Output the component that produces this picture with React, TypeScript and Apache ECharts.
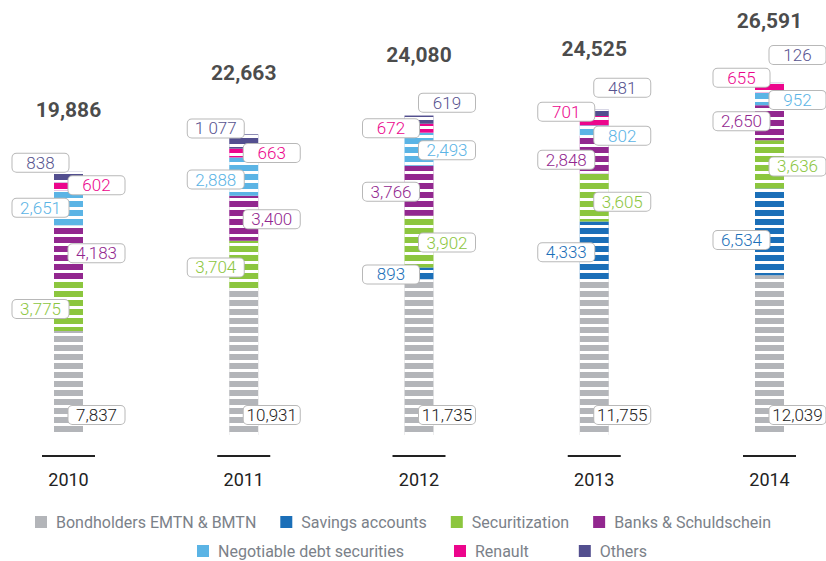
import React, { useEffect, useRef } from "react";
import * as echarts from "echarts";

const categories = ["2010", "2011", "2012", "2013", "2014"];
const bondholders = [7837, 10931, 11735, 11755, 12039];
const savings = [0, 0, 893, 4333, 6534];
const securitization = [3775, 3704, 3902, 3605, 3636];
const banks = [4183, 3400, 3766, 2848, 2650];
const negotiable = [2651, 2888, 2493, 802, 952];
const renault = [602, 663, 672, 701, 655];
const others = [838, 1077, 619, 481, 126];
const totals = [19886, 22663, 24080, 24525, 26591];

const specialLabels: Record<string, string> = { "Others|1": "1 077" };

const FONT = "Roboto, 'Noto Sans', sans-serif";

type Side = "L" | "R";
interface SeriesDef {
  name: string;
  values: number[];
  color: string;
  textColor: string;
  side: Side[];
  dy: number[];
  bottom?: boolean;
}

const seriesDefs: SeriesDef[] = [
  { name: "Bondholders EMTN & BMTN", values: bondholders, color: "#b3b5b9", textColor: "#222222", side: ["R", "R", "R", "R", "R"], dy: [-20, -20, -20, -20, -20], bottom: true },
  { name: "Savings accounts", values: savings, color: "#1b6fb8", textColor: "#1b6fb8", side: ["L", "L", "L", "L", "L"], dy: [0, 0, 1, 2, 8] },
  { name: "Securitization", values: securitization, color: "#8cc63e", textColor: "#8cc63e", side: ["L", "L", "R", "R", "R"], dy: [3, 2, 1, 4, 2] },
  { name: "Banks & Schuldschein", values: banks, color: "#92278f", textColor: "#92278f", side: ["R", "R", "L", "L", "L"], dy: [0, 1, 1, 5, -1.5] },
  { name: "Negotiable debt securities", values: negotiable, color: "#5bb4e5", textColor: "#5bb4e5", side: ["L", "L", "R", "R", "R"], dy: [0, 3, 1, 5, 1] },
  { name: "Renault", values: renault, color: "#ec058c", textColor: "#ec058c", side: ["R", "R", "L", "L", "L"], dy: [-1, 0, 0, -9, -10.5] },
  { name: "Others", values: others, color: "#534f8f", textColor: "#57538f", side: ["L", "L", "R", "R", "R"], dy: [-14, -13, -17, -25, -28] },
];

const fmt = (v: number) => v.toLocaleString("en-US");

export default function App() {
  const ref = useRef<HTMLDivElement>(null);
  useEffect(() => {
    if (!ref.current) return;
    const chart = echarts.init(ref.current, undefined, { renderer: "svg" });

    const barSeries = seriesDefs.map((d) => ({
      name: d.name,
      type: "bar",
      stack: "total",
      barWidth: 29,
      itemStyle: {
        color: d.color,
        decal: {
          symbol: "rect",
          symbolSize: 1,
          dashArrayX: [1, 0],
          dashArrayY: [3, 6],
          rotation: 0,
          color: "#ffffff",
        },
      },
      data: d.values.map((v, i) => ({
        value: v,
        label: {
          show: v > 0,
          position: d.bottom ? ["50%", "100%"] : ["50%", "50%"],
          offset: [d.side[i] === "L" ? -28 : 28, d.dy[i]],
        },
      })),
      label: {
        show: true,
        formatter: (p: any) => specialLabels[`${d.name}|${p.dataIndex}`] ?? fmt(p.value),
        color: d.textColor,
        fontFamily: FONT,
        fontSize: 17,
        fontWeight: 300,
        backgroundColor: "#ffffff",
        borderColor: "#b8b8b8",
        borderWidth: 1,
        borderRadius: 4,
        padding: [0, 4],
        width: 48,
        height: 18,
        lineHeight: 18,
        align: "center",
        verticalAlign: "middle",
      },
      emphasis: { disabled: true },
    }));

    const legendBase = {
      padding: 0,
      icon: "rect",
      itemWidth: 12,
      itemHeight: 12,
      selectedMode: false,
      textStyle: { fontFamily: FONT, fontSize: 16, color: "#7b8189", padding: [0, 0, 0, 4] },
    };

    const option: any = {
      animation: false,
      backgroundColor: "#ffffff",
      grid: { left: 68.5, right: 56.5, top: 37, bottom: 126, containLabel: false },
      xAxis: {
        type: "category",
        data: categories,
        boundaryGap: false,
        axisLine: { show: false },
        axisTick: { show: false },
        splitLine: { show: false },
        axisLabel: {
          margin: 44,
          verticalAlign: "middle",
          fontFamily: FONT,
          fontSize: 18,
          color: "#222222",
        },
      },
      yAxis: {
        type: "value",
        min: 0,
        max: 30000,
        show: false,
        splitLine: { show: false },
      },
      legend: [
        {
          ...legendBase,
          itemGap: 24,
          data: seriesDefs.slice(0, 4).map((d) => ({ name: d.name, itemStyle: { decal: "none" } })),
          left: 35,
          top: 514,
        },
        {
          ...legendBase,
          itemGap: 50,
          data: seriesDefs.slice(4).map((d) => ({ name: d.name, itemStyle: { decal: "none" } })),
          left: 197,
          top: 543,
        },
      ],
      series: [
        ...barSeries,
        {
          name: "totals",
          type: "scatter",
          data: totals.map((t, i) => [i, t]),
          symbolSize: 1,
          itemStyle: { color: "rgba(0,0,0,0)" },
          label: {
            show: true,
            position: "inside",
            offset: [0, -61],
            formatter: (p: any) => fmt(p.value[1]),
            fontFamily: FONT,
            fontSize: 21,
            fontWeight: "bold",
            color: "#1a1a1a",
          },
          emphasis: { disabled: true },
          z: 5,
        },
        {
          name: "baselines",
          type: "custom",
          data: categories.map((_, i) => [i, 0]),
          renderItem: (_params: any, api: any) => {
            const p = api.coord([api.value(0), 0]);
            return {
              type: "rect",
              shape: { x: p[0] - 26.5, y: p[1] + 20, width: 53, height: 2 },
              style: { fill: "#222222" },
            };
          },
          silent: true,
        },
      ],
    };
    chart.setOption(option);
    return () => chart.dispose();
  }, []);
  return <div ref={ref} style={{ width: 826, height: 561, position: "absolute", left: 0, top: 0 }} />;
}
